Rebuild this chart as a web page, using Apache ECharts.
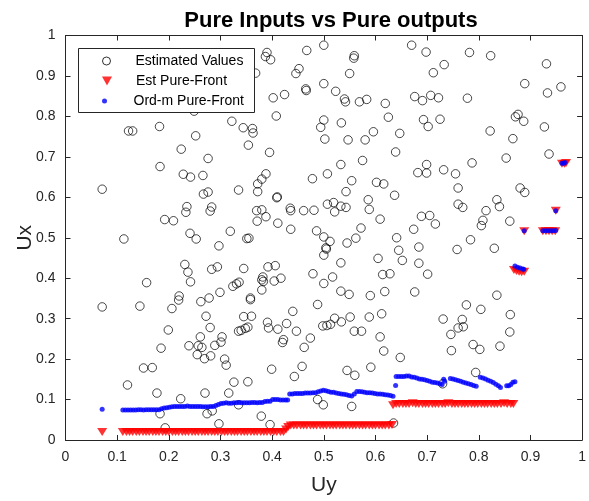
<!DOCTYPE html>
<html><head><meta charset="utf-8">
<script src="https://cdn.jsdelivr.net/npm/echarts@6/dist/echarts.min.js"></script>
<style>html,body{margin:0;padding:0;background:#fff}#c{width:589px;height:501px}</style>
</head><body><div id="c"></div>
<script>
const tickLabels = ['0','0.1','0.2','0.3','0.4','0.5','0.6','0.7','0.8','0.9','1'];

// Estimated Values (Uy, Ux)
const estUy = [0.249,0.322,0.122,0.130,0.182,0.252,0.224,0.276,0.183,0.390,0.387,0.397,0.467,0.500,0.559,0.558,0.368,0.452,0.446,0.550,
0.465,0.466,0.500,0.523,0.540,0.542,0.569,0.583,0.619,0.625,0.647,0.402,0.424,0.408,0.344,0.362,0.363,0.354,0.395,0.500,
0.494,0.534,0.502,0.547,0.580,0.596,0.639,0.533,0.575,0.670,0.698,0.782,0.823,0.733,0.712,0.931,0.889,0.933,0.959,0.676,
0.691,0.707,0.722,0.778,0.693,0.702,0.725,0.871,0.876,0.887,0.927,0.822,0.866,0.699,0.732,0.787,0.853,0.936,0.228,0.242,
0.266,0.071,0.335,0.267,0.276,0.235,0.233,0.283,0.280,0.192,0.209,0.319,0.241,0.253,0.113,0.297,0.231,0.237,0.283,0.294,
0.157,0.242,0.324,0.331,0.220,0.278,0.299,0.388,0.380,0.372,0.372,0.478,0.507,0.554,0.602,0.616,0.543,0.637,0.409,0.410,
0.370,0.380,0.388,0.435,0.436,0.461,0.481,0.507,0.519,0.521,0.533,0.543,0.586,0.588,0.609,0.371,0.411,0.436,0.351,0.355,
0.486,0.500,0.512,0.504,0.505,0.500,0.545,0.562,0.572,0.641,0.645,0.652,0.605,0.533,0.345,0.392,0.406,0.382,0.380,0.383,
0.404,0.417,0.479,0.517,0.500,0.614,0.628,0.380,0.533,0.549,0.590,0.618,0.358,0.336,0.682,0.699,0.755,0.760,0.880,0.889,
0.835,0.840,0.760,0.769,0.814,0.689,0.705,0.716,0.674,0.808,0.805,0.860,0.784,0.684,0.758,0.830,0.684,0.701,0.676,0.835,
0.071,0.144,0.219,0.206,0.262,0.272,0.280,0.199,0.335,0.261,0.303,0.301,0.185,0.239,0.257,0.264,0.289,0.255,0.269,0.281,
0.308,0.311,0.151,0.168,0.120,0.177,0.223,0.270,0.316,0.326,0.183,0.274,0.284,0.297,0.193,0.358,0.488,0.440,0.345,0.360,
0.391,0.393,0.411,0.428,0.447,0.340,0.348,0.353,0.498,0.506,0.513,0.521,0.534,0.551,0.588,0.612,0.559,0.573,0.422,0.420,
0.474,0.462,0.609,0.616,0.648,0.399,0.458,0.443,0.545,0.560,0.591,0.353,0.488,0.499,0.554,0.379,0.396,0.335,0.635,0.776,
0.804,0.861,0.731,0.768,0.760,0.770,0.746,0.860,0.747,0.789,0.802,0.841,0.794,0.730];
const estUx = [0.813,0.788,0.764,0.764,0.775,0.752,0.719,0.696,0.676,0.958,0.948,0.940,0.963,0.976,0.950,0.944,0.907,0.918,0.906,0.906,
0.868,0.864,0.881,0.862,0.843,0.836,0.836,0.842,0.832,0.798,0.758,0.846,0.854,0.801,0.772,0.770,0.759,0.729,0.711,0.791,
0.773,0.784,0.744,0.742,0.742,0.762,0.712,0.681,0.691,0.976,0.959,0.958,0.950,0.928,0.908,0.930,0.881,0.858,0.873,0.849,
0.839,0.852,0.846,0.845,0.792,0.775,0.793,0.799,0.805,0.788,0.774,0.764,0.745,0.681,0.668,0.685,0.697,0.707,0.657,0.650,
0.654,0.620,0.618,0.608,0.613,0.577,0.563,0.576,0.566,0.545,0.542,0.516,0.511,0.497,0.497,0.480,0.434,0.415,0.422,0.428,
0.389,0.391,0.380,0.386,0.356,0.351,0.365,0.658,0.645,0.633,0.614,0.646,0.658,0.641,0.637,0.633,0.614,0.605,0.599,0.601,
0.567,0.569,0.552,0.573,0.567,0.567,0.568,0.583,0.587,0.564,0.578,0.575,0.594,0.570,0.546,0.541,0.536,0.521,0.498,0.499,
0.517,0.502,0.491,0.475,0.472,0.457,0.487,0.499,0.524,0.500,0.469,0.444,0.449,0.438,0.424,0.428,0.431,0.403,0.396,0.392,
0.393,0.400,0.411,0.403,0.387,0.409,0.411,0.371,0.368,0.360,0.357,0.367,0.351,0.390,0.661,0.660,0.658,0.623,0.623,0.612,
0.594,0.577,0.583,0.575,0.567,0.553,0.555,0.534,0.521,0.543,0.530,0.541,0.495,0.477,0.471,0.474,0.437,0.410,0.366,0.358,
0.329,0.331,0.346,0.325,0.342,0.306,0.278,0.272,0.269,0.255,0.255,0.242,0.227,0.233,0.233,0.229,0.234,0.211,0.201,0.208,
0.200,0.185,0.178,0.179,0.136,0.116,0.102,0.116,0.116,0.143,0.065,0.065,0.072,0.040,0.030,0.347,0.335,0.318,0.305,0.306,
0.291,0.277,0.274,0.288,0.269,0.271,0.276,0.279,0.282,0.283,0.286,0.301,0.292,0.304,0.304,0.312,0.269,0.269,0.248,0.241,
0.252,0.229,0.255,0.220,0.204,0.175,0.182,0.157,0.172,0.160,0.180,0.144,0.100,0.087,0.083,0.059,0.038,0.087,0.042,0.334,
0.323,0.310,0.299,0.298,0.277,0.280,0.261,0.267,0.221,0.236,0.224,0.232,0.167,0.139];

// Est Pure-Front
const frontEstUy = [0.071,
0.111,0.118,0.124,0.130,0.137,0.143,0.150,0.156,0.162,0.169,0.175,0.181,0.188,0.194,0.200,0.207,0.213,0.219,0.226,0.232,
0.238,0.245,0.251,0.257,0.264,0.270,0.276,0.283,0.289,0.295,0.302,0.308,0.314,0.321,0.327,0.333,0.340,0.346,0.352,0.359,
0.365,0.371,0.378,0.384,0.390,0.397,0.403,0.409,0.416,0.422,0.427,0.431,
0.436,0.442,0.448,0.455,0.461,0.467,0.474,0.480,0.486,0.493,0.499,0.505,0.512,0.518,0.524,0.531,0.537,0.543,0.550,0.556,
0.562,0.569,0.575,0.581,0.588,0.594,0.600,0.607,0.613,0.619,0.626,0.632,
0.634,0.640,0.646,0.653,0.659,0.665,0.672,0.678,0.684,0.691,0.697,0.703,0.710,0.716,0.722,0.729,0.735,0.741,0.748,0.754,
0.760,0.767,0.773,0.779,0.786,0.792,0.798,0.805,0.811,0.817,0.824,0.830,0.836,0.843,0.849,0.855,0.862,0.867,
0.868,0.873,0.878,0.883,0.888,0.888,0.924,0.930,0.936,0.942,0.948,0.949,0.961,0.966,0.969];
const frontEstUx = [0.020,
0.020,0.020,0.020,0.020,0.020,0.020,0.020,0.020,0.020,0.020,0.020,0.020,0.020,0.020,0.020,0.020,0.020,0.020,0.020,0.020,
0.020,0.020,0.020,0.020,0.020,0.020,0.020,0.020,0.020,0.020,0.020,0.020,0.020,0.020,0.020,0.020,0.020,0.020,0.020,0.020,
0.020,0.020,0.020,0.020,0.020,0.020,0.020,0.020,0.020,0.020,0.026,0.032,
0.036,0.036,0.036,0.036,0.036,0.036,0.036,0.036,0.036,0.036,0.036,0.036,0.036,0.036,0.036,0.036,0.036,0.036,0.036,0.036,
0.036,0.036,0.036,0.036,0.036,0.036,0.036,0.036,0.036,0.036,0.036,0.037,
0.086,0.089,0.089,0.089,0.089,0.089,0.091,0.089,0.089,0.089,0.089,0.089,0.089,0.089,0.089,0.089,0.089,0.091,0.089,0.089,
0.089,0.089,0.089,0.089,0.089,0.089,0.089,0.089,0.089,0.089,0.089,0.089,0.089,0.089,0.091,0.089,0.089,0.089,
0.420,0.418,0.416,0.415,0.416,0.516,0.516,0.516,0.516,0.516,0.516,0.567,0.683,0.683,0.685];

// Ord-m Pure-Front
const frontOrdUy = [0.071,
0.111,0.116,0.121,0.126,0.131,0.136,0.141,0.146,0.151,0.156,0.161,0.166,0.171,0.176,0.181,0.186,0.191,0.196,0.201,0.206,
0.211,0.216,0.221,0.226,0.231,0.236,0.241,0.246,0.251,0.256,0.261,0.266,0.271,0.276,0.281,0.286,0.291,0.296,0.301,0.306,
0.311,0.316,0.321,0.326,0.331,0.336,0.341,0.346,0.351,0.356,0.361,0.366,0.371,0.376,0.381,0.386,0.391,0.396,0.401,0.406,
0.411,0.416,0.421,0.426,0.430,
0.434,0.439,0.444,0.449,0.454,0.459,0.464,0.469,0.474,0.479,0.484,0.489,0.494,0.499,0.504,0.509,0.514,0.519,0.524,0.529,
0.534,0.539,0.544,0.549,0.554,0.559,0.564,0.569,0.574,0.579,0.584,0.589,0.594,0.599,0.604,0.609,0.614,0.619,0.624,0.629,
0.634,0.639,
0.640,0.645,0.650,0.655,0.660,0.665,0.670,0.675,0.680,0.685,0.690,0.695,0.700,0.705,0.710,0.715,0.720,0.725,0.729,0.732,
0.734,0.745,0.750,0.755,0.760,0.765,0.770,0.775,0.780,0.785,0.790,0.795,0.803,0.808,0.813,0.818,0.823,0.828,0.833,0.838,
0.842,0.854,0.858,0.862,0.866,0.870,
0.870,0.875,0.880,0.885,0.887,0.888,0.924,0.929,0.934,0.939,0.944,0.949,0.949,0.961,0.964,0.967];
const frontOrdUx = [0.076,
0.074,0.074,0.074,0.074,0.074,0.074,0.075,0.075,0.074,0.075,0.075,0.075,0.075,0.075,0.075,0.077,0.079,0.080,0.081,0.082,
0.083,0.083,0.083,0.083,0.083,0.084,0.083,0.083,0.083,0.083,0.083,0.082,0.082,0.082,0.083,0.083,0.085,0.088,0.090,0.091,
0.092,0.091,0.091,0.092,0.092,0.093,0.092,0.092,0.092,0.092,0.093,0.093,0.092,0.093,0.093,0.095,0.096,0.096,0.100,0.100,
0.100,0.099,0.099,0.099,0.099,
0.114,0.114,0.115,0.115,0.115,0.115,0.116,0.116,0.116,0.117,0.117,0.119,0.121,0.123,0.122,0.120,0.118,0.118,0.116,0.115,
0.114,0.113,0.112,0.110,0.109,0.114,0.120,0.120,0.119,0.118,0.117,0.117,0.116,0.115,0.114,0.114,0.113,0.112,0.111,0.110,
0.108,0.135,
0.157,0.157,0.157,0.157,0.158,0.158,0.156,0.155,0.153,0.151,0.150,0.149,0.147,0.145,0.143,0.142,0.141,0.139,0.137,0.150,
0.145,0.152,0.151,0.149,0.147,0.145,0.143,0.141,0.139,0.137,0.135,0.133,0.155,0.153,0.151,0.148,0.145,0.142,0.138,0.134,
0.130,0.134,0.134,0.137,0.143,0.144,
0.430,0.427,0.425,0.423,0.422,0.517,0.517,0.517,0.517,0.517,0.517,0.518,0.567,0.684,0.684,0.686];

const zip = (a, b) => a.map((v, i) => [v, b[i]]);
const FONT = 'Liberation Sans';
const AX = '#262626';

const chart = echarts.init(document.getElementById('c'), null, {renderer: 'canvas'});
const baseAxis = {
  type: 'value', min: 0, max: 1, interval: 0.1,
  axisLine: {show: true, onZero: false, lineStyle: {color: AX, width: 1}},
  axisTick: {show: true, inside: true, length: 5, lineStyle: {color: AX, width: 1}},
  splitLine: {show: false},
  axisLabel: {show: true, color: AX, fontSize: 14, fontFamily: FONT, margin: 10,
    formatter: v => tickLabels[Math.round(v * 10)]}
};
const legendText = {fontFamily: FONT, fontSize: 14, color: '#000'};
chart.setOption({
  animation: false,
  backgroundColor: '#fff',
  title: {text: 'Pure Inputs vs Pure outputs', left: 326, top: 5, textAlign: 'center',
    textStyle: {fontFamily: FONT, fontSize: 22, fontWeight: 'bold', color: '#000'}},
  grid: {left: 65.5, right: 3, top: 35.5, bottom: 57, containLabel: false},
  xAxis: [
    Object.assign({}, baseAxis, {position: 'bottom', name: 'Uy', nameLocation: 'middle', nameGap: 35,
      nameMoveOverlap: false, nameTextStyle: {fontFamily: FONT, fontSize: 21, color: AX}}),
    Object.assign({}, baseAxis, {position: 'top', axisLabel: {show: false}})
  ],
  yAxis: [
    Object.assign({}, baseAxis, {position: 'left', name: 'Ux', nameLocation: 'middle', nameGap: 30,
      nameMoveOverlap: false, nameTextStyle: {fontFamily: FONT, fontSize: 21, color: AX}}),
    Object.assign({}, baseAxis, {position: 'right', axisLabel: {show: false}})
  ],
  legend: [
    {data: [{name: 'Estimated Values', icon: 'circle', itemStyle: {color: 'rgba(0,0,0,0)', borderColor: '#000', borderWidth: 1}}],
     left: 102, top: 54, padding: 0, itemWidth: 48, itemHeight: 8, z: 120, selectedMode: false, textStyle: legendText},
    {data: [{name: 'Est Pure-Front', icon: 'path://M0,0 L10,0 L5,9 Z', itemStyle: {color: '#ff0000'}}],
     left: 102, top: 74, padding: 0, itemWidth: 48, itemHeight: 9, z: 120, selectedMode: false, textStyle: legendText},
    {data: [{name: 'Ord-m Pure-Front', icon: 'circle', itemStyle: {color: '#0000ff'}}],
     left: 102, top: 94, padding: 0, itemWidth: 48, itemHeight: 5, z: 120, selectedMode: false, textStyle: legendText}
  ],
  graphic: [{type: 'rect', left: 78, top: 48, z: 110,
    shape: {width: 176, height: 64}, style: {fill: '#fff', stroke: AX, lineWidth: 1}}],
  series: [
    {name: 'Estimated Values', type: 'scatter', data: zip(estUy, estUx), symbol: 'circle', symbolSize: 8.5,
     itemStyle: {color: 'rgba(0,0,0,0)', borderColor: '#000', borderWidth: 0.9}, z: 2},
    {name: 'Est Pure-Front', type: 'scatter', data: zip(frontEstUy, frontEstUx), symbol: 'triangle', symbolRotate: 180,
     symbolSize: [10, 8], itemStyle: {color: '#ff0000'}, z: 3},
    {name: 'Ord-m Pure-Front', type: 'scatter', data: zip(frontOrdUy, frontOrdUx), symbol: 'circle', symbolSize: 5,
     itemStyle: {color: '#0000ff'}, z: 4}
  ]
});
</script></body></html>
